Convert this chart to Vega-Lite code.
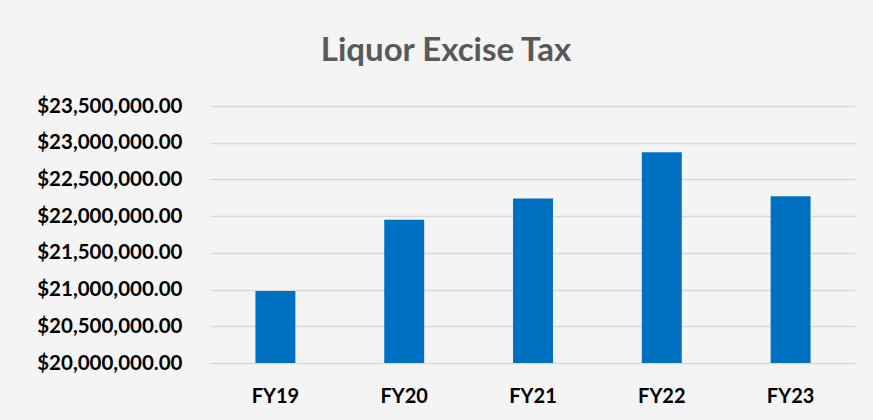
{
  "$schema": "https://vega.github.io/schema/vega-lite/v6.json",
  "autosize": "none",
  "width": 644,
  "height": 257,
  "padding": {"left": 211, "top": 106, "right": 18, "bottom": 57},
  "background": "#f4f4f4",
  "title": {
    "text": "Liquor Excise Tax",
    "font": "Lato",
    "fontSize": 33,
    "fontWeight": "bold",
    "color": "#595959",
    "anchor": "middle",
    "baseline": "alphabetic",
    "dx": -87,
    "offset": 2
  },
  "config": {"view": {"stroke": null}},
  "data": {
    "values": [
      {"year": "FY19", "tax": 20980000},
      {"year": "FY20", "tax": 21950000},
      {"year": "FY21", "tax": 22240000},
      {"year": "FY22", "tax": 22870000},
      {"year": "FY23", "tax": 22270000}
    ]
  },
  "mark": {"type": "bar", "color": "#0070c0", "clip": true},
  "encoding": {
    "x": {
      "field": "year",
      "type": "nominal",
      "sort": null,
      "scale": {"paddingInner": 0.69, "paddingOuter": 0.345},
      "axis": {
        "title": null,
        "labelAngle": 0,
        "domain": false,
        "ticks": false,
        "labelFont": "Lato",
        "labelFontSize": 20,
        "labelFontWeight": "bold",
        "labelColor": "#000000",
        "labelPadding": 23
      }
    },
    "y": {
      "field": "tax",
      "type": "quantitative",
      "scale": {"domain": [20000000, 23500000], "zero": false, "nice": false},
      "axis": {
        "title": null,
        "values": [20000000, 20500000, 21000000, 21500000, 22000000, 22500000, 23000000, 23500000],
        "format": "$,.2f",
        "domain": false,
        "ticks": false,
        "grid": true,
        "gridColor": "#d9d9d9",
        "gridWidth": 1.5,
        "labelFont": "Lato",
        "labelFontSize": 20.5,
        "labelFontWeight": "bold",
        "labelColor": "#000000",
        "labelPadding": 29
      }
    }
  }
}
